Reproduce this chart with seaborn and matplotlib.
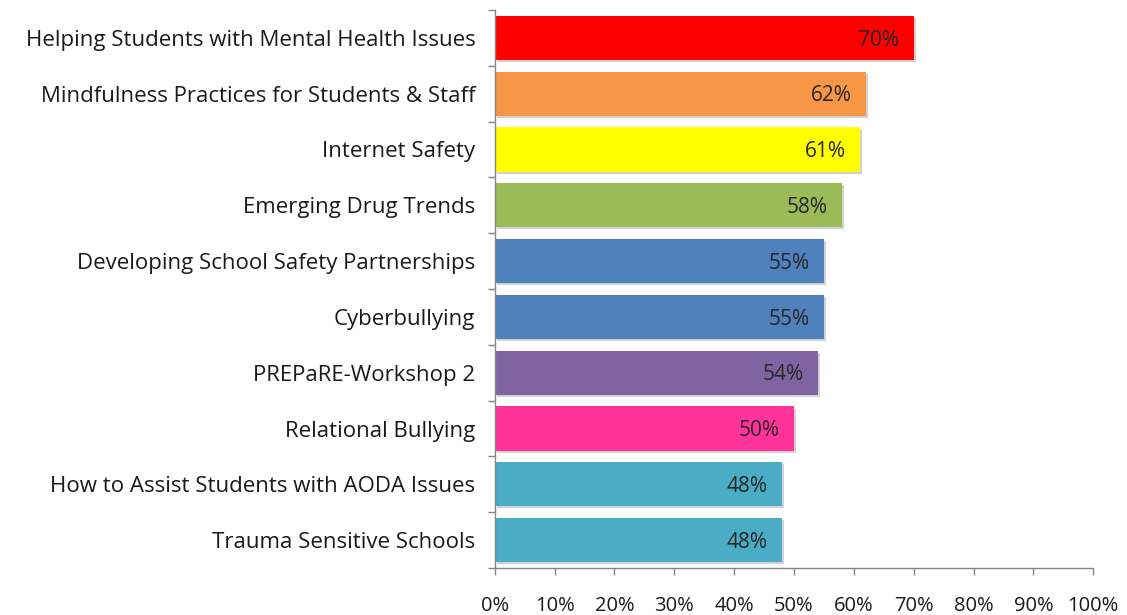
import matplotlib
matplotlib.use("Agg")
import matplotlib.pyplot as plt
import matplotlib.patheffects as pe
from matplotlib.ticker import FixedLocator, PercentFormatter
import seaborn as sns
import pandas as pd
import numpy as np

topics = [
    "Helping Students with Mental Health Issues",
    "Mindfulness Practices for Students & Staff",
    "Internet Safety",
    "Emerging Drug Trends",
    "Developing School Safety Partnerships",
    "Cyberbullying",
    "PREPaRE-Workshop 2",
    "Relational Bullying",
    "How to Assist Students with AODA Issues",
    "Trauma Sensitive Schools",
]
percent = [70, 62, 61, 58, 55, 55, 54, 50, 48, 48]
bar_colors = ["#FF0000", "#F79646", "#FFFF00", "#9BBB59", "#4F81BD",
              "#4F81BD", "#8064A2", "#FF3399", "#4BACC6", "#4BACC6"]
x_ticks = [0, 10, 20, 30, 40, 50, 60, 70, 80, 90, 100]

df = pd.DataFrame({"topic": topics, "percent": percent})

sns.set_style("white")
plt.rcParams["font.family"] = ["Open Sans", "DejaVu Sans"]

fig = plt.figure(figsize=(11.27, 6.15), dpi=100)
ax = fig.add_axes([0.439, 0.0764, 0.531, 0.9074])

sns.barplot(data=df, y="topic", x="percent", hue="topic", palette=bar_colors,
            orient="h", width=0.79, legend=False, ax=ax, saturation=1)

# soft drop shadow under each bar
shadow = [pe.SimplePatchShadow(offset=(1.5, -1.5), shadow_rgbFace="#808080", alpha=0.35),
          pe.Normal()]
for patch in ax.patches:
    patch.set_path_effects(shadow)
    patch.set_edgecolor("none")

for i, v in enumerate(percent):
    ax.text(v - 2.4, i + 0.04, f"{v}%", ha="right", va="center",
            fontsize=15, color="#262626")

ax.set_xlim(0, 100)
ax.set_ylim(len(topics) - 0.5, -0.5)
ax.xaxis.set_major_locator(FixedLocator(x_ticks))
ax.xaxis.set_major_formatter(PercentFormatter(decimals=0))

# category tick marks sit on the boundaries between bars
ax.yaxis.set_minor_locator(FixedLocator(np.arange(-0.5, len(topics), 1.0)))
ax.tick_params(axis="y", which="major", length=0, pad=14, labelsize=16,
               labelcolor="#1a1a1a")
ax.tick_params(axis="y", which="minor", length=5, width=1, color="#868686",
               direction="out", left=True)
ax.tick_params(axis="x", which="major", length=5, width=1, color="#868686",
               direction="out", bottom=True, pad=15, labelsize=14.5,
               labelcolor="#1a1a1a")

ax.set_xlabel("")
ax.set_ylabel("")
for side in ["top", "right"]:
    ax.spines[side].set_visible(False)
for side in ["left", "bottom"]:
    ax.spines[side].set_color("#868686")
    ax.spines[side].set_linewidth(1)

fig.savefig("out.png", dpi=100)
